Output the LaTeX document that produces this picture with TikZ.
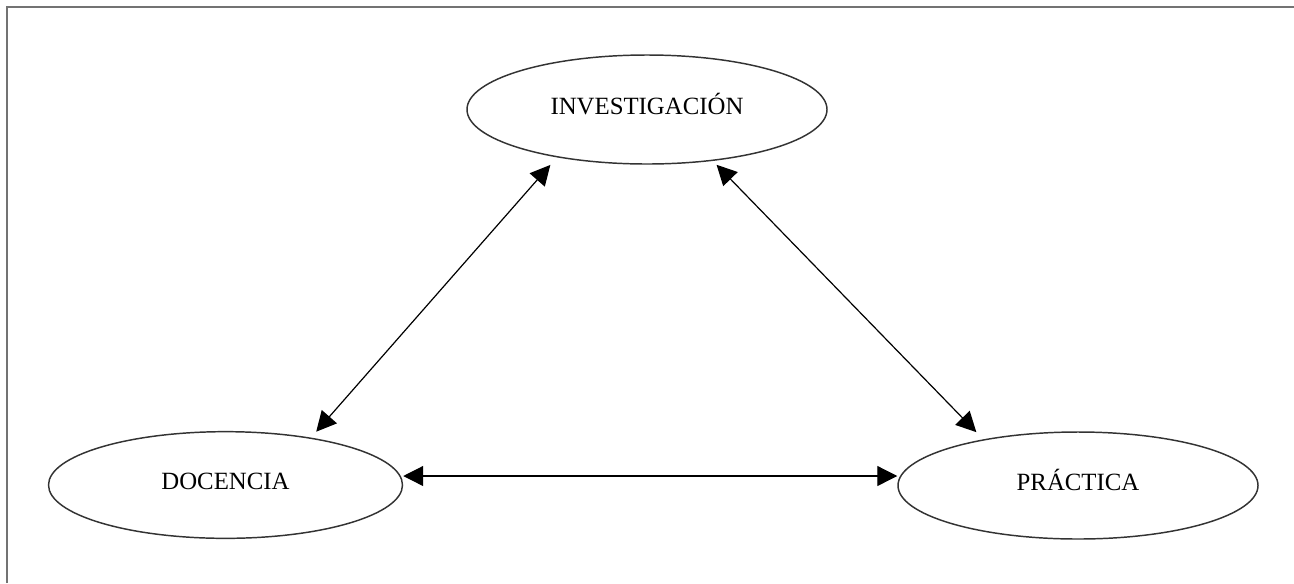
\documentclass[tikz,border=0pt]{standalone}
\usepackage{fontspec}
\setmainfont{Liberation Serif}
\usetikzlibrary{shapes.geometric,arrows.meta}
\begin{document}
\begin{tikzpicture}[x=0.75pt,y=-0.75pt,
  oval/.style={ellipse, draw=black!80, line width=1.1pt, inner sep=0pt,
    font=\fontsize{18.6}{22}\selectfont, text height=0.7em, text depth=0pt},
  link/.style={line width=0.9pt,
    {Triangle[length=15pt,width=15pt]}-{Triangle[length=15pt,width=15pt]}},
  frameline/.style={draw=black!55, line width=1.5pt}]
\useasboundingbox (0,0) rectangle (1294,583);
\fill[white] (0,0) rectangle (1294,583);
\coordinate (fa) at (7,583);
\coordinate (fb) at (7,7);
\coordinate (fc) at (1294,7);
\draw[frameline] (fa) -- (fb) -- (fc);
\node[oval, minimum width=270pt, minimum height=81.75pt] (inv) at (647,109.5) {INVESTIGACIÓN};
\node[oval, minimum width=265.5pt, minimum height=80pt] (doc) at (225.5,485) {DOCENCIA};
\node[oval, minimum width=270pt, minimum height=80.25pt] (prac) at (1078,485.5) {PRÁCTICA};
\draw[link, shorten <=5.9pt, shorten >=7.5pt] (doc.29.8) -- (inv.208.75);
\draw[link, shorten <=4pt, shorten >=7.5pt] (inv.322.6) -- (prac.154.8);
\coordinate (hl) at ([yshift=6.75pt]doc.east);
\draw[link] (hl) -- (hl -| prac.west);
\end{tikzpicture}
\end{document}
